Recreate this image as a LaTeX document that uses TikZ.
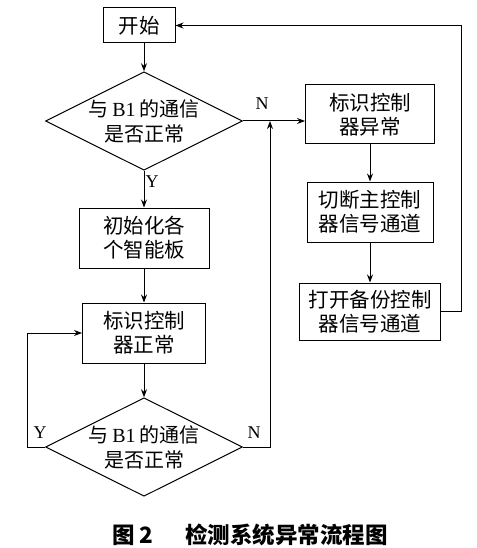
\documentclass[tikz,border=0pt]{standalone}
\usepackage{fontspec}
\setmainfont{Liberation Serif}
\newfontfamily\cjk{Noto Sans CJK SC}
\usetikzlibrary{shapes.geometric,arrows.meta}

\tikzset{
  proc/.style={draw, line width=1pt, align=center, inner sep=0pt,
    font=\cjk\fontsize{20.5}{24}\selectfont},
  decide/.style={draw, diamond, aspect=2, line width=1pt, align=center, inner sep=0pt,
    minimum width=197pt, minimum height=94pt, font=\cjk\fontsize{20}{25}\selectfont},
  flow/.style={line width=1pt, -{Stealth[length=8pt,width=6pt]}},
  yn/.style={font=\fontsize{18}{20}\selectfont}
}

\begin{document}
\begin{tikzpicture}[x=1pt,y=-1pt]
    \useasboundingbox (0,0) rectangle (476,548);

    % --- Colonna principale ---
    \node[proc, minimum width=72pt, minimum height=35pt] (start) at (139,25.5) {开始};
    \node[decide] (d1) at (144,121) {与\,{\rmfamily B1}\,的通信\\是否正常};
    \node[proc, minimum width=130pt, minimum height=60pt] (init) at (144,238) {初始化各\\个智能板};
    \node[proc, minimum width=123pt, minimum height=60pt] (ok) at (144,333) {标识控制\\器正常};
    \node[decide] (d2) at (144,447) {与\,{\rmfamily B1}\,的通信\\是否正常};

    % --- Colonna destra ---
    \node[proc, minimum width=129pt, minimum height=59pt] (err) at (370,114.5) {标识控制\\器异常};
    \node[proc, minimum width=126pt, minimum height=60pt] (cut) at (370,212) {切断主控制\\器信号通道};
    \node[proc, minimum width=141pt, minimum height=57pt] (open) at (370,311.5) {打开备份控制\\器信号通道};

    % Punti di giunzione
    \coordinate (nj) at (270,121);
    \coordinate (yl) at (27,333);

    % Frecce
    \draw[flow] (start.south -| d1.north) -- (d1.north);
    \draw[flow] (d1.south) -- (init.north);
    \draw[flow] (init) -- (ok);
    \draw[flow] (ok) -- (d2);
    \draw[flow] (d1.east) -- (d1.east -| err.west);
    \draw[flow] (err) -- (cut);
    \draw[flow] (cut) -- (open);
    \draw[flow] (open.east) -- ++(20,0) |- (start.east);
    \draw[flow] (d2.east) -| (nj);
    \draw[flow] (d2.west) -| (yl) -- (ok.west);

    % Etichette
    \node[yn] (n1) at (262,104) {N};
    \node[yn] (y1) at (152,182) {Y};
    \node[yn] (y2) at (40,433) {Y};
    \node[yn] (n2) at (254,433) {N};
    \node[font=\cjk\bfseries\fontsize{22.5}{24}\selectfont] (cap) at (250,535) {图 2\hspace{1.4em}检测系统异常流程图};
\end{tikzpicture}
\end{document}
